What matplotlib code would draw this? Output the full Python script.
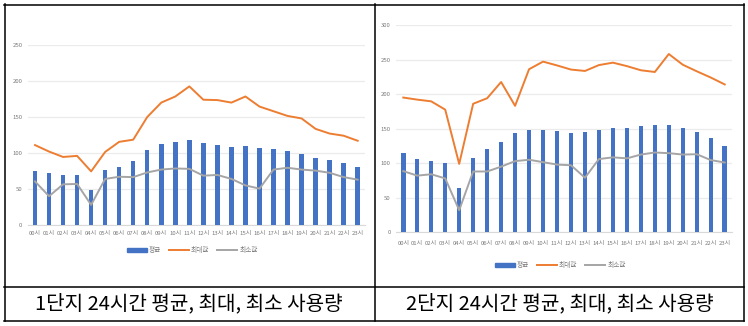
import matplotlib
matplotlib.use("Agg")
import matplotlib.pyplot as plt
from matplotlib.lines import Line2D
from matplotlib.patches import Patch

plt.rcParams['font.family'] = ['Noto Sans CJK KR', 'DejaVu Sans']

hours = ["%02d시" % h for h in range(24)]

# 1단지
avg1 = [75.5, 72, 69.5, 69, 49, 76, 80.5, 89.5, 104, 113, 115, 117.5,
        113.5, 110.5, 108.5, 109.5, 107, 106, 103, 99, 92.5, 90, 85.5, 80]
max1 = [111, 102, 94.5, 96, 74.5, 101.5, 115.5, 118.5, 150, 170, 178.5, 192.5,
        174, 173.5, 170, 178.5, 164.5, 158, 151.5, 148, 133.5, 127, 124, 117]
min1 = [60.5, 40, 56.5, 57, 28, 64, 67, 66.5, 73, 77, 78.5, 78,
        68.5, 69.5, 64, 55, 50.5, 77, 79.5, 77, 75.5, 72.5, 66.5, 63]

# 2단지
avg2 = [114.5, 106, 103.5, 100.5, 64.5, 108, 120, 131, 144, 147.5, 147.5, 146.5,
        144, 145, 147.5, 150.5, 151.5, 153.5, 155.5, 155.5, 151.5, 145, 137, 125]
max2 = [195, 192, 189.5, 177.5, 99, 186, 194, 217.5, 183, 236, 247, 241.5,
        235.5, 233.5, 242, 245.5, 240.5, 234.5, 232, 258, 242.5, 233, 224, 214]
min2 = [88.5, 82, 84, 78, 32, 88, 88, 95, 103, 105, 101.5, 98,
        97, 79, 106, 108.5, 107, 112.5, 115.5, 114.5, 112.5, 113, 104.5, 101]

captions = ["1단지 24시간 평균, 최대, 최소 사용량", "2단지 24시간 평균, 최대, 최소 사용량"]
legend_labels = ["평균", "최대값", "최소값"]

BLUE = "#4472C4"
ORANGE = "#ED7D31"
GRAY = "#A5A5A5"
TXT = "#7a7a7a"

W, H = 748, 326
fig = plt.figure(figsize=(W / 100, H / 100), dpi=100)


def px_axes(x0, y0, x1, y1):
    # pixel box (top-left origin) -> figure fraction axes
    return fig.add_axes([x0 / W, 1 - y1 / H, (x1 - x0) / W, (y1 - y0) / H])


def draw_chart(ax, avg, mx, mn, ymax, step, label_pad, leg_xy):
    x = list(range(24))
    ax.bar(x, avg, width=0.32, color=BLUE, zorder=3)
    ax.plot(x, mx, color=ORANGE, lw=1.4, zorder=4)
    ax.plot(x, mn, color=GRAY, lw=1.4, zorder=4)
    ax.set_xlim(-0.5, 23.5)
    ax.set_ylim(0, ymax)
    ax.set_yticks(range(0, ymax + 1, step))
    ax.set_xticks(x)
    ax.set_xticklabels(hours)
    ax.grid(axis='y', color='#ebebeb', lw=0.9, zorder=0)
    for s in ['top', 'right', 'left']:
        ax.spines[s].set_visible(False)
    ax.spines['bottom'].set_color('#d9d9d9')
    ax.spines['bottom'].set_linewidth(0.8)
    ax.tick_params(length=0, labelsize=4.3, colors=TXT)
    ax.tick_params(axis='x', pad=label_pad)
    ax.tick_params(axis='y', pad=4)
    handles = [Patch(color=BLUE), Line2D([], [], color=ORANGE, lw=1.4),
               Line2D([], [], color=GRAY, lw=1.4)]
    fig.legend(handles, legend_labels, loc='center',
               bbox_to_anchor=(leg_xy[0] / W, 1 - leg_xy[1] / H),
               ncol=3, frameon=False, fontsize=4.8, labelcolor=TXT,
               handlelength=3.0, handleheight=0.6, handletextpad=0.3,
               columnspacing=1.2)


ax1 = px_axes(28, 45, 364.7, 225)
draw_chart(ax1, avg1, max1, min1, 250, 50, 4, (192, 250))

ax2 = px_axes(396.3, 25, 731.7, 232.3)
draw_chart(ax2, avg2, max2, min2, 300, 50, 6, (560, 265))

# table borders
def hline(y, x0, x1):
    fig.add_artist(Line2D([x0 / W, x1 / W], [1 - y / H, 1 - y / H],
                          color='black', lw=1.1, transform=fig.transFigure))


def vline(x, y0, y1):
    fig.add_artist(Line2D([x / W, x / W], [1 - y0 / H, 1 - y1 / H],
                          color='black', lw=1.1, transform=fig.transFigure))


hline(4.5, 4, 744)
hline(287, 4, 744)
hline(320.5, 4, 744)
vline(4.5, 4, 321)
vline(375, 4, 321)
vline(743.5, 4, 321)

fig.text(189 / W, 1 - 304 / H, captions[0], ha='center', va='center',
         fontsize=14.5, color='black')
fig.text(560 / W, 1 - 304 / H, captions[1], ha='center', va='center',
         fontsize=14.5, color='black')

fig.savefig("out.png", dpi=100, facecolor='white')
